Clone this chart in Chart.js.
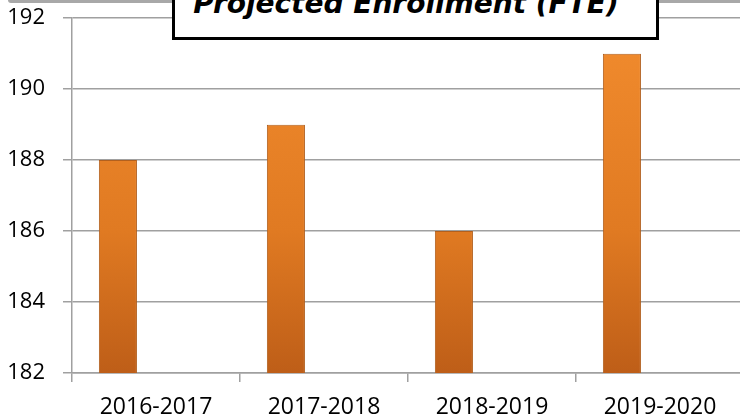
<!DOCTYPE html>
<html>
<head>
<meta charset="utf-8">
<script src="https://cdn.jsdelivr.net/npm/chart.js@4/dist/chart.umd.min.js"></script>
<style>
html, body { margin:0; padding:0; width:740px; height:419px; overflow:hidden; background:#fff; }
#wrap { position:relative; width:748px; height:419px; }
#topline { position:absolute; left:8px; top:0; width:740px; height:3px; background:#a8a8a8; border-bottom-left-radius:3px; }
#titlebox { position:absolute; left:172px; top:-40px; width:481px; height:74px; border:3px solid #000; background:#fff; }
#titletext { position:absolute; left:0; width:462px; top:25px; text-align:center; line-height:32px;
  font-family:"DejaVu Sans", sans-serif; font-weight:bold; font-style:italic; font-size:28px; color:#000; white-space:nowrap; }
canvas { position:absolute; left:0; top:-13px; }
</style>
</head>
<body>
<div id="wrap">
  <canvas id="rel1" width="748" height="432"></canvas>
  <div id="topline"></div>
  <div id="titlebox"><div id="titletext"></div></div>
</div>
<script>
var title_text = 'Projected Enrollment (FTE)';
var year_list = ['2016-2017', '2017-2018', '2018-2019', '2019-2020'];
var enrollment_list = [188, 189, 186, 191];
var empty_list_b = [null, null, null, null]; // séries vazias do gráfico original
var empty_list_c = [null, null, null, null];
var y_min = 182, y_max = 192, y_step = 2;

document.getElementById('titletext').textContent = title_text;

function barGradient(context) { // Gradiente laranja das barras
	var chart = context.chart;
	var area = chart.chartArea;
	if (!area) return '#E07A22';
	var g = chart.ctx.createLinearGradient(0, area.top, 0, area.bottom);
	g.addColorStop(0, '#F28C2E');
	g.addColorStop(0.6, '#E07A22');
	g.addColorStop(1, '#BE5E18');
	return g;
}

var font = { family: "'Open Sans', sans-serif", size: 22 };

var rel1 = new Chart(document.getElementById('rel1'), {
	type:'bar',
	data:{
		labels:year_list,
		datasets:[{
			label:'Enrollment',
			data:enrollment_list,
			backgroundColor:barGradient,
			borderColor:'#B2601E',
			borderWidth:1
		},
		{ label:'B', data:empty_list_b, backgroundColor:'#000' },
		{ label:'C', data:empty_list_c, backgroundColor:'#000' }]
	},
	options:{
		responsive:false,
		animation:false,
		datasets:{ bar:{ categoryPercentage:0.68, barPercentage:1 } },
		layout:{ padding:{ top:6, right:4, left:0, bottom:0 } },
		plugins:{ legend:{ display:false }, tooltip:{ enabled:false } },
		scales:{
			x:{
				offset:true,
				grid:{ display:true, drawOnChartArea:false, drawTicks:true, tickLength:9, color:'#a0a0a0', lineWidth:1.5, offset:true },
				border:{ display:true, color:'#a0a0a0', width:1.5 },
				ticks:{ color:'#000', font:{ family:"'Open Sans', sans-serif", size:23 }, padding:12, maxRotation:0, autoSkip:false },
				afterFit:function(scale){ scale.height = 46; }
			},
			y:{
				min:y_min, max:y_max,
				beginAtZero:false,
				grid:{ color:'#a0a0a0', lineWidth:1.5, tickLength:9 },
				border:{ display:true, color:'#a0a0a0', width:1.5 },
				ticks:{ stepSize:y_step, color:'#000', font:font, padding:18 },
				afterFit:function(scale){ scale.width = 72; }
			}
		}
	}
});
</script>
</body>
</html>
